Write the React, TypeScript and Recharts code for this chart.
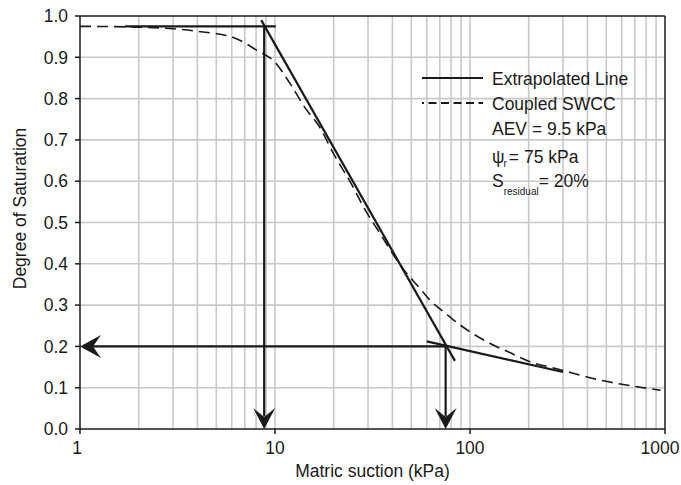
import { LineChart, Line, XAxis, YAxis, ReferenceLine, ReferenceDot } from "recharts";

// coupled SWCC (dashed)
const swcc = [
  { x: 1, y: 0.975 }, { x: 2, y: 0.973 }, { x: 3, y: 0.969 }, { x: 4, y: 0.963 },
  { x: 6.2, y: 0.947 }, { x: 8, y: 0.918 }, { x: 10, y: 0.888 }, { x: 12, y: 0.835 },
  { x: 14.3, y: 0.777 }, { x: 17, y: 0.73 }, { x: 20, y: 0.666 }, { x: 25, y: 0.588 },
  { x: 28.4, y: 0.538 }, { x: 34.5, y: 0.474 }, { x: 45, y: 0.39 }, { x: 55, y: 0.342 },
  { x: 62.3, y: 0.312 }, { x: 75, y: 0.28 }, { x: 92, y: 0.247 }, { x: 127, y: 0.207 },
  { x: 160, y: 0.185 }, { x: 203, y: 0.163 }, { x: 278, y: 0.146 }, { x: 460, y: 0.119 },
  { x: 950, y: 0.094 },
];

// extrapolated straight segments
const plateau = [{ x: 1.7, y: 0.975 }, { x: 10.1, y: 0.975 }];
const desat = [{ x: 8.5, y: 0.99 }, { x: 83.7, y: 0.165 }];
const residual = [{ x: 60, y: 0.212 }, { x: 300, y: 0.138 }];

// AEV / residual construction arrows
const aevX = 8.8;
const aevY = 0.975;
const resX = 75;
const resY = 0.2;

const xTicks = [1, 10, 100, 1000];
const yTicks = [0, 0.1, 0.2, 0.3, 0.4, 0.5, 0.6, 0.7, 0.8, 0.9, 1.0];
const xGrid = [2, 3, 4, 5, 6, 7, 8, 9, 10, 20, 30, 40, 50, 60, 70, 80, 90, 100, 200, 300, 400, 500, 600, 700, 800, 900];
const yGrid = [0.1, 0.2, 0.3, 0.4, 0.5, 0.6, 0.7, 0.8, 0.9];

const FONT = "'Liberation Sans', Arial, sans-serif";
const INK = "#1a1a1a";
const GRID = "#c9c9c9";

function ArrowHead(props: any) {
  const { cx, cy, dir } = props;
  if (cx == null || cy == null) return null;
  const pts =
    dir === "down"
      ? `${cx},${cy} ${cx - 11},${cy - 21} ${cx},${cy - 12} ${cx + 11},${cy - 21}`
      : `${cx},${cy} ${cx + 21},${cy - 11.5} ${cx + 13},${cy} ${cx + 21},${cy + 11.5}`;
  return <polygon points={pts} fill={INK} />;
}

function XTick(props: any) {
  const { x, y, payload } = props;
  const shift = payload.value === 1000 ? -5 : payload.value === 1 ? -3 : 0;
  return (
    <text x={x + shift} y={y} dy="0.71em" textAnchor="middle" fontSize={17.5} fill={INK}>
      {payload.value}
    </text>
  );
}

function LegendBox() {
  return (
    <svg width={240} height={140} style={{ fontFamily: FONT, display: "block" }}>
      <line x1={4} y1={15} x2={65} y2={15} stroke={INK} strokeWidth={2.2} />
      <line x1={4} y1={40} x2={65} y2={40} stroke={INK} strokeWidth={1.8} strokeDasharray="8 4.5" strokeDashoffset={6} />
      <text x={74} y={22} fontSize={17.5} fill={INK}>Extrapolated Line</text>
      <text x={74} y={47} fontSize={17.5} fill={INK}>Coupled SWCC</text>
      <text x={74} y={72} fontSize={17.5} fill={INK}>AEV = 9.5 kPa</text>
      <text x={74} y={100} fontSize={17.5} fill={INK}>
        ψ<tspan fontSize={10} dx={-1} dy={4}>r</tspan>
        <tspan dx={2} dy={-4}>= 75 kPa</tspan>
      </text>
      <text x={74} y={124} fontSize={17.5} fill={INK}>
        S<tspan fontSize={10} dy={8}>residual</tspan>
        <tspan dy={-8}>= 20%</tspan>
      </text>
    </svg>
  );
}

export default function App() {
  return (
    <div style={{ position: "absolute", left: 0, top: 0, width: 681, height: 485, fontFamily: FONT, background: "#fff" }}>
      <LineChart width={681} height={485} margin={{ top: 16, right: 16, left: 0, bottom: 6 }}>
        <XAxis
          dataKey="x"
          type="number"
          scale="log"
          domain={[1, 1000]}
          allowDataOverflow
          ticks={xTicks}
          interval={0}
          tick={<XTick />}
          tickSize={5}
          tickMargin={8}
          height={50}
          stroke={INK}
          strokeWidth={1.5}
          tickLine={{ stroke: INK, strokeWidth: 1.5 }}
          label={{ value: "Matric suction (kPa)", position: "insideBottom", offset: 2, fontSize: 17.5, fill: INK }}
        />
        <YAxis
          type="number"
          domain={[0, 1]}
          allowDataOverflow
          ticks={yTicks}
          interval={0}
          tickFormatter={(v: number) => v.toFixed(1)}
          tick={{ fontSize: 17.5, fill: INK }}
          tickSize={5}
          tickMargin={7}
          width={80}
          stroke={INK}
          strokeWidth={1.5}
          tickLine={{ stroke: INK, strokeWidth: 1.5 }}
          label={{
            value: "Degree of Saturation",
            angle: -90,
            position: "insideLeft",
            offset: 20,
            dy: -14,
            fontSize: 17.5,
            fill: INK,
            style: { textAnchor: "middle" },
          }}
        />
        {xGrid.map((v) => (
          <ReferenceLine key={"gx" + v} x={v} stroke={GRID} strokeWidth={1.6} />
        ))}
        {yGrid.map((v) => (
          <ReferenceLine key={"gy" + v} y={v} stroke={GRID} strokeWidth={1.6} />
        ))}
        <ReferenceLine y={1} stroke={INK} strokeWidth={1.5} />
        <ReferenceLine x={1000} stroke={INK} strokeWidth={1.5} />

        <Line data={swcc} dataKey="y" name="Coupled SWCC" type="monotone" stroke={INK} strokeWidth={1.6}
          strokeDasharray="11 6" dot={false} isAnimationActive={false} />
        <Line data={plateau} dataKey="y" name="Extrapolated Line" stroke={INK} strokeWidth={2.2}
          dot={false} isAnimationActive={false} />
        <Line data={desat} dataKey="y" stroke={INK} strokeWidth={2.2} dot={false} isAnimationActive={false} />
        <Line data={residual} dataKey="y" stroke={INK} strokeWidth={2.2} dot={false} isAnimationActive={false} />

        <ReferenceLine segment={[{ x: aevX, y: aevY }, { x: aevX, y: 0.03 }]} stroke={INK} strokeWidth={2.2} />
        <ReferenceLine segment={[{ x: resX, y: resY }, { x: resX, y: 0.03 }]} stroke={INK} strokeWidth={2.2} />
        <ReferenceLine segment={[{ x: resX, y: resY }, { x: 1.1, y: resY }]} stroke={INK} strokeWidth={2.2} />
        <ReferenceDot x={aevX} y={0} ifOverflow="visible" shape={(p: any) => <ArrowHead {...p} dir="down" />} />
        <ReferenceDot x={resX} y={0} ifOverflow="visible" shape={(p: any) => <ArrowHead {...p} dir="down" />} />
        <ReferenceDot x={1} y={resY} ifOverflow="visible" shape={(p: any) => <ArrowHead {...p} dir="left" />} />
      </LineChart>
      <div style={{ position: "absolute", left: 418, top: 63 }}>
        <LegendBox />
      </div>
    </div>
  );
}
